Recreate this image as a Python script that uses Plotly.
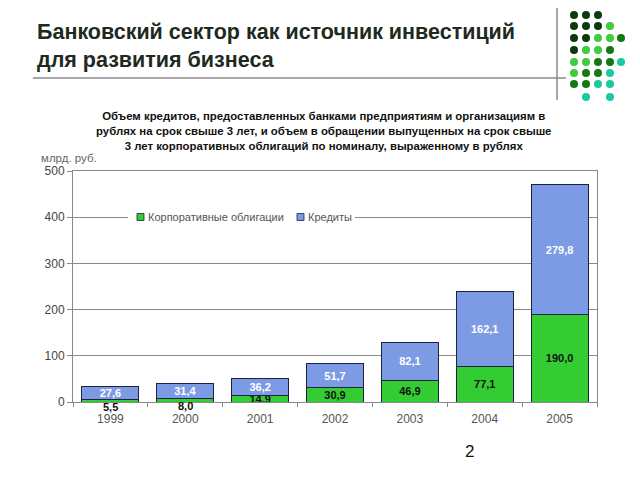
import plotly.graph_objects as go

years = ["1999", "2000", "2001", "2002", "2003", "2004", "2005"]
bonds = [5.5, 8.0, 14.9, 30.9, 46.9, 77.1, 190.0]
credits = [27.6, 31.4, 36.2, 51.7, 82.1, 162.1, 279.8]
bonds_name = "Корпоративные облигации"
credits_name = "Кредиты"
y_ticks = [0, 100, 200, 300, 400, 500]

def fmt(v):
    return f"{v:.1f}".replace(".", ",")

# small values shown below the bar (as in the reference)
below = [v < 10 for v in bonds]

FONT = "Liberation Sans, Arial, sans-serif"
GREEN = "#33cc33"
BLUE = "#7d9be4"
EDGE = "#1c2340"

fig = go.Figure()
fig.add_trace(go.Bar(
    x=years, y=bonds, name=bonds_name, showlegend=False,
    marker=dict(color=GREEN, line=dict(color=EDGE, width=1)),
    text=["" if b else fmt(v) for v, b in zip(bonds, below)],
    textposition="inside", insidetextanchor="middle",
    textfont=dict(family=FONT, size=11, color="#111111", weight="bold"),
    hoverinfo="skip",
))
fig.add_trace(go.Bar(
    x=years, y=credits, name=credits_name, showlegend=False,
    marker=dict(color=BLUE, line=dict(color=EDGE, width=1)),
    text=[fmt(v) for v in credits],
    textposition="inside", insidetextanchor="middle",
    textfont=dict(family=FONT, size=11, color="white", weight="bold"),
    hoverinfo="skip",
))

for i, (v, b) in enumerate(zip(bonds, below)):
    if b:
        fig.add_annotation(x=i, y=v, xref="x", yref="y", text=fmt(v),
                           showarrow=False, yanchor="top",
                           font=dict(family=FONT, size=11, color="#111111", weight="bold"))

W, H = 640, 480
L, R, T, B = 73, 43, 171, 78
pw, ph = W - L - R, H - T - B
def px(x):
    return (x - L) / pw
def py(y):
    return (H - B - y) / ph

fig.update_layout(
    width=W, height=H,
    margin=dict(l=L, r=R, t=T, b=B),
    paper_bgcolor="white", plot_bgcolor="white",
    barmode="stack", bargap=0.24,
    font=dict(family=FONT, size=11, color="#444444"),
    uniformtext=dict(minsize=11, mode="show"),
    showlegend=False,
    xaxis=dict(type="category", range=[-0.5, len(years) - 0.5], showline=True,
               linecolor="#888888", mirror=True,
               ticks="outside", tickson="boundaries", ticklen=4, tickcolor="#888888",
               ticklabelstandoff=6,
               tickfont=dict(family=FONT, size=12, color="#555555"), showgrid=False),
    yaxis=dict(range=[0, 500], tickvals=y_ticks, showline=True, linecolor="#888888",
               mirror=True, ticks="outside", ticklen=5, tickcolor="#888888",
               showgrid=True, gridcolor="#888888", gridwidth=1, zeroline=False,
               tickfont=dict(family=FONT, size=12, color="#444444")),
)

# manual legend (white box over the gridline, small square swatches)
fig.add_shape(type="rect", xref="paper", yref="paper", x0=px(128), x1=px(355),
              y0=py(224), y1=py(210), fillcolor="white", line=dict(width=0), layer="above")
for sx, nm, col in [(137, bonds_name, GREEN), (297, credits_name, BLUE)]:
    fig.add_shape(type="rect", xref="paper", yref="paper", x0=px(sx), x1=px(sx + 7),
                  y0=py(220.5), y1=py(213.5), fillcolor=col, line=dict(color=EDGE, width=0.8),
                  layer="above")
    fig.add_annotation(xref="paper", yref="paper", x=px(sx + 9), y=py(217), xanchor="left",
                       yanchor="middle", text=nm, showarrow=False,
                       font=dict(family=FONT, size=11, color="#555555"))

fig.add_annotation(xref="paper", yref="paper", x=px(35), y=py(46), xanchor="left", yanchor="middle",
                   text="<b>Банковский сектор как источник инвестиций<br>для развития бизнеса</b>",
                   showarrow=False, align="left",
                   font=dict(family=FONT, size=21.5, color="#1e2a1e"))
fig.add_annotation(xref="paper", yref="paper", x=px(323), y=py(131), xanchor="center", yanchor="middle",
                   text="<b>Объем кредитов, предоставленных банками предприятиям и организациям в<br>"
                        "рублях на срок свыше 3 лет, и объем в обращении выпущенных на срок свыше<br>"
                        "3 лет корпоративных облигаций по номиналу, выраженному в рублях</b>",
                   showarrow=False, align="center",
                   font=dict(family=FONT, size=11.4, color="#111111"))
fig.add_annotation(xref="paper", yref="paper", x=px(39), y=py(158), xanchor="left", yanchor="middle",
                   text="млрд. руб.", showarrow=False,
                   font=dict(family=FONT, size=11.5, color="#666666"))
fig.add_annotation(xref="paper", yref="paper", x=px(469), y=py(451), xanchor="center", yanchor="middle",
                   text="2", showarrow=False,
                   font=dict(family=FONT, size=17, color="#111111"))

# decorative lines
fig.add_shape(type="line", xref="paper", yref="paper", x0=px(33), x1=px(566), y0=py(78), y1=py(78),
              line=dict(color="#8a8a8a", width=1.5))
fig.add_shape(type="line", xref="paper", yref="paper", x0=px(557), x1=px(557), y0=py(8), y1=py(100),
              line=dict(color="#8a8a8a", width=1.5))

# decorative dot matrix
D, M, Lg, Tl = "#0c3a0c", "#137a13", "#3ccc3c", "#19c9a0"
cols = [574, 586, 598, 610, 621]
rows = [15, 26, 38, 50, 62, 73, 84, 97]
pattern = [
    [D, D, D, None, None],
    [D, D, D, Lg, None],
    [D, D, Lg, Lg, M],
    [D, Lg, Lg, M, None],
    [Lg, Lg, M, M, Tl],
    [Lg, M, M, Tl, None],
    [M, M, Tl, Tl, None],
    [None, Tl, None, Tl, None],
]
r = 4
for ry, row in zip(rows, pattern):
    for cx, c in zip(cols, row):
        if c:
            fig.add_shape(type="circle", xref="paper", yref="paper",
                          x0=px(cx - r), x1=px(cx + r), y0=py(ry + r), y1=py(ry - r),
                          fillcolor=c, line=dict(width=0))

fig.write_html("out.html")
